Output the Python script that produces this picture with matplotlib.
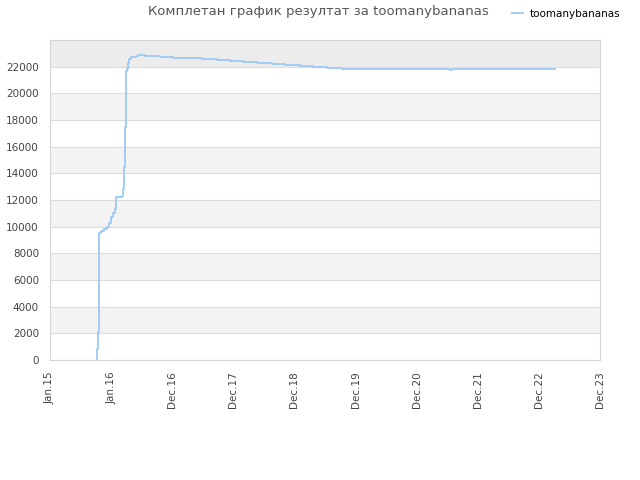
import matplotlib
matplotlib.use('Agg')
import matplotlib.pyplot as plt

# position on the period axis (one unit per tick label) and score
period_pos = [0.769, 0.777, 0.785, 0.794, 0.835, 0.884, 0.933, 0.965, 0.998, 1.031,
              1.064, 1.072, 1.113, 1.178, 1.195, 1.211, 1.227, 1.244, 1.260, 1.276,
              1.293, 1.326, 1.407, 1.440, 1.473, 1.555, 1.800, 2.013, 2.258, 2.487,
              2.733, 2.946, 3.158, 3.387, 3.633, 3.846, 4.091, 4.304, 4.533, 4.778,
              6.546, 6.578, 8.264]
score = [0, 800, 2100, 9500, 9700, 9850, 10000, 10300, 10700, 11000,
         11300, 12200, 12250, 12300, 12850, 14500, 17500, 21700, 21850, 22300,
         22600, 22750, 22800, 22850, 22880, 22820, 22750, 22680, 22620, 22550,
         22480, 22400, 22330, 22250, 22180, 22100, 22030, 21950, 21880, 21800,
         21730, 21800, 21800]
tick_labels = ['Jan.15', 'Jan.16', 'Dec.16', 'Dec.17', 'Dec.18', 'Dec.19',
               'Dec.20', 'Dec.21', 'Dec.22', 'Dec.23']
y_ticks = list(range(0, 22001, 2000))

fig = plt.figure(figsize=(6.4, 4.8), dpi=100)
ax = fig.add_axes([50 / 640, 120 / 480, 550 / 640, 320 / 480])

# alternating bands, top one a bit darker
for i, lo in enumerate(range(0, 24000, 2000)):
    if lo == 22000:
        ax.axhspan(lo, lo + 2000, color='#ececec', zorder=0, lw=0)
    elif i % 2 == 1:
        ax.axhspan(lo, lo + 2000, color='#f3f3f3', zorder=0, lw=0)
for y in y_ticks:
    ax.axhline(y, color='#dddddd', lw=0.8, zorder=1)

ax.plot(period_pos, score, drawstyle='steps-post', color='#9bc9f5', lw=1.3,
        zorder=3, label='toomanybananas')

ax.set_xlim(0, 9)
ax.set_ylim(0, 24000)
ax.set_xticks(range(len(tick_labels)))
ax.set_xticklabels(tick_labels, rotation=90, fontsize=7.5, color='#444444')
ax.set_yticks(y_ticks)
ax.set_yticklabels([str(v) for v in y_ticks], fontsize=7.5, color='#444444')
ax.tick_params(axis='x', length=0, pad=8)
ax.tick_params(axis='y', length=0, pad=8)
for s in ax.spines.values():
    s.set_color('#d5d5d5')

fig.text(318 / 640, 1 - 12 / 480, 'Комплетан график резултат за toomanybananas',
         ha='center', va='center', fontsize=9.5, color='#555555')
fig.legend(loc='center left', bbox_to_anchor=(503 / 640, 1 - 14 / 480), frameon=False,
           fontsize=7.5, handlelength=1.0, handletextpad=0.7)

fig.savefig('out.png', dpi=100)
